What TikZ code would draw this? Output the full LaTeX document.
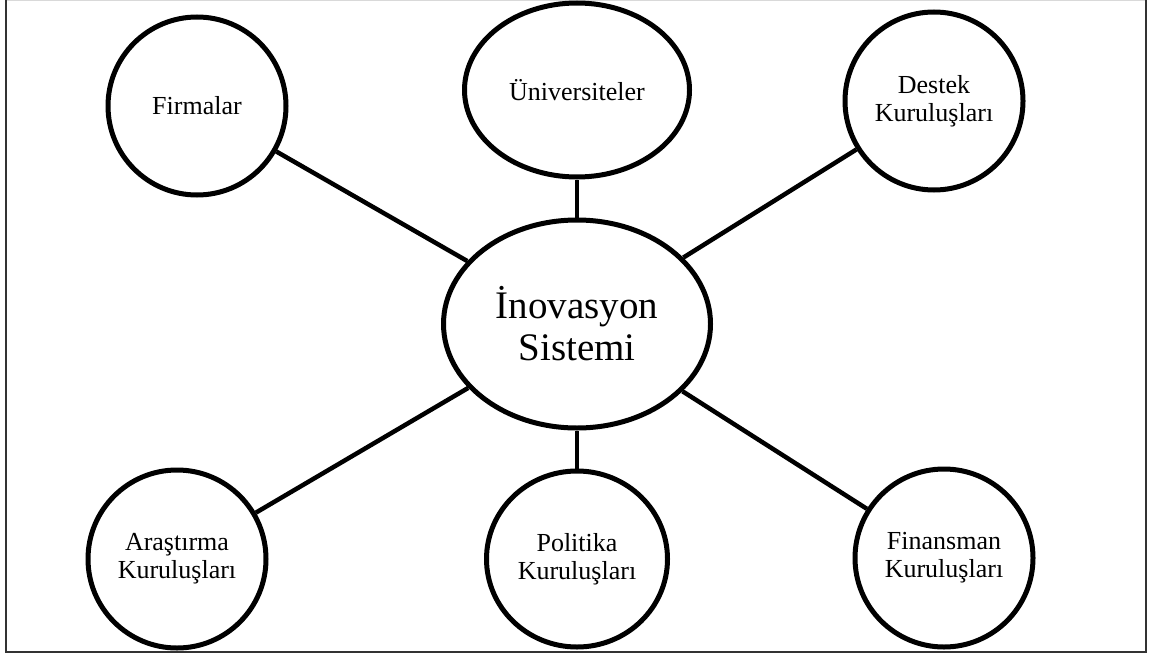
\documentclass[tikz,border=0pt]{standalone}
\usepackage{fontspec}
\setmainfont{Liberation Serif}
\usetikzlibrary{shapes.geometric}
\newcommand{\smallfont}{\fontsize{26}{28}\selectfont}

\begin{document}
\begin{tikzpicture}[x=1pt,y=-1pt,
  org/.style={circle,draw,line width=5pt,minimum size=178pt,inner sep=0pt,align=center,font=\smallfont},
  orgell/.style={ellipse,draw,line width=5pt,inner sep=0pt,align=center,font=\smallfont},
  link/.style={line width=4.5pt}]
\useasboundingbox (0,0) rectangle (1155,655);
\draw[line width=1pt,black!15] (6,1) -- (1146,1);
\draw[line width=2.5pt,black!80] (6,0) -- (6,652) -- (1146,652) -- (1146,0);
% center
\node[orgell,minimum width=267pt,minimum height=208pt,font=\fontsize{39}{42}\selectfont] (sys) at (577,324) {İnovasyon\\Sistemi};
% top row
\node[org] (firm) at (197,106) {Firmalar};
\node[orgell,minimum width=225pt,minimum height=174pt] (univ) at (577,90) {Üniversiteler};
\node[org] (dest) at (934,101) {Destek\\Kuruluşları};
% bottom row
\node[org] (aras) at (177,559) {Araştırma\\Kuruluşları};
\node[orgell,minimum width=181pt,minimum height=176pt] (pol) at (577,559) {Politika\\Kuruluşları};
\node[org] (fin) at (944,558) {Finansman\\Kuruluşları};
\foreach \n in {firm,univ,dest,aras,pol,fin} \draw[link] (sys) -- (\n);
\end{tikzpicture}
\end{document}
